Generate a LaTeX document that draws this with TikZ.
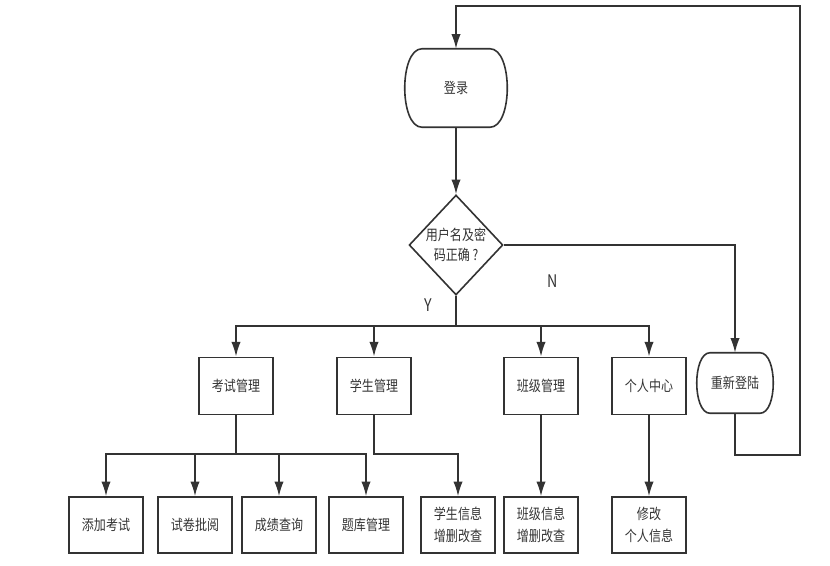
\documentclass[tikz,border=0pt]{standalone}
\usepackage{fontspec}
\setmainfont{Noto Sans CJK SC}[FakeStretch=0.82]
\usetikzlibrary{shapes.geometric,arrows.meta}
\definecolor{ink}{HTML}{333333}

\begin{document}
\begin{tikzpicture}[x=0.75pt,y=-0.75pt,
  every node/.style={font=\fontsize{11}{16}\selectfont,text=ink},
  box/.style={draw=ink,line width=1.2pt,minimum width=55.5pt,minimum height=43pt,align=center,inner sep=1pt},
  lowbox/.style={box,minimum height=42pt},
  term/.style={align=center,inner sep=1pt},
  line/.style={draw=ink,line width=1.2pt},
  arr/.style={line,-{Latex[length=11pt,width=7pt]}}]
  \useasboundingbox (0,0) rectangle (830,565);
  % top part
  \node[term,minimum width=76.5pt,minimum height=58.5pt] (login) at (456,88) {登录};
  \node[draw=ink,line width=1.2pt,diamond,inner sep=0pt,minimum width=69pt,minimum height=75pt,
    align=center,font=\fontsize{11}{15}\selectfont] (check) at (456,245) {用户名及密\\码正确~?};
  \node[term,minimum width=57pt,minimum height=45pt] (relogin) at (735,383) {重新登陆};
  \node[font=\fontsize{13}{15}\selectfont] (yes) at (428,305) {Y};
  \node[font=\fontsize{13}{15}\selectfont] (no) at (553,281) {N};
  % terminator outlines
  \foreach \n/\rx in {login/13pt,relogin/10pt}
    \draw[line] ([xshift=\rx]\n.north west) -- ([xshift=-\rx]\n.north east)
      .. controls ([xshift=\rx/3]\n.north east) and ([xshift=\rx/3]\n.south east) .. ([xshift=-\rx]\n.south east)
      -- ([xshift=\rx]\n.south west)
      .. controls ([xshift=-\rx/3]\n.south west) and ([xshift=-\rx/3]\n.north west) .. cycle;
  % second level
  \node[box] (exam) at (236,386) {考试管理};
  \node[box] (stu) at (374,386) {学生管理};
  \node[box] (cls) at (541,386) {班级管理};
  \node[box] (me) at (649,386) {个人中心};
  % third level
  \node[lowbox] (add) at (106,525) {添加考试};
  \node[lowbox] (mark) at (195,525) {试卷批阅};
  \node[lowbox] (score) at (279,525) {成绩查询};
  \node[lowbox] (bank) at (366,525) {题库管理};
  \node[lowbox] (stuinfo) at (458,525) {学生信息\\增删改查};
  \node[lowbox] (clsinfo) at (541,525) {班级信息\\增删改查};
  \node[lowbox] (meinfo) at (649,525) {修改\\个人信息};
  % connectors
  \coordinate (ybus) at (456,326);
  \coordinate (ebus) at (236,454);
  \coordinate (sbus) at (374,454);
  \coordinate (back1) at (800,455);
  \coordinate (back2) at (800,6);
  \draw[arr] (login) -- (check);
  \draw[arr] (check.east) -| (relogin);
  \draw[line] (check.south) -- (ybus);
  \foreach \n in {exam,stu,cls,me}
    \draw[arr] (ybus) -| (\n);
  \draw[line] (exam) -- (ebus);
  \foreach \n in {add,mark,score,bank}
    \draw[arr] (ebus) -| (\n);
  \draw[arr] (stu) -- (sbus) -| (stuinfo);
  \draw[arr] (cls) -- (clsinfo);
  \draw[arr] (me) -- (meinfo);
  \draw[arr] (relogin.south) |- (back1) -- (back2) -| (login);
\end{tikzpicture}
\end{document}
